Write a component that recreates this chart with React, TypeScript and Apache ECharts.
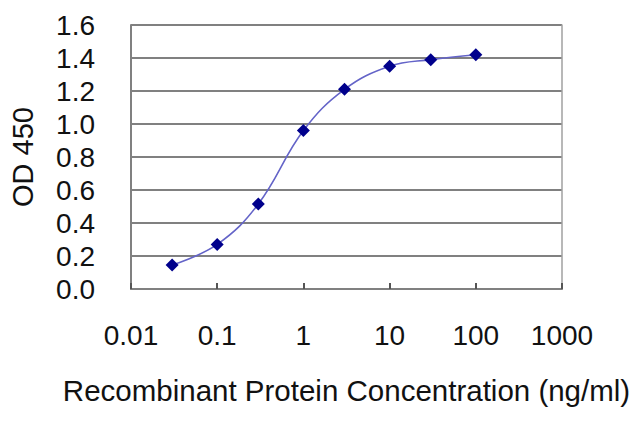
import React, { useEffect, useRef } from "react";
import * as echarts from "echarts";

const concentrations = [0.03, 0.1, 0.3, 1, 3, 10, 30, 100];
const odValues = [0.145, 0.27, 0.515, 0.96, 1.21, 1.35, 1.39, 1.42];
const yTicks = { min: 0, max: 1.6, interval: 0.2 };
const xRange = { min: 0.01, max: 1000 };
const xTitle = "Recombinant Protein Concentration (ng/ml)";
const yTitle = "OD 450";

const FONT = "'Liberation Sans', Arial, sans-serif";

export default function App() {
  const ref = useRef<HTMLDivElement>(null);
  useEffect(() => {
    if (!ref.current) return;
    const chart = echarts.init(ref.current, undefined, { renderer: "svg" });
    const data = concentrations.map((c, i) => [c, odValues[i]]);
    chart.setOption({
      animation: false,
      backgroundColor: "#ffffff",
      grid: { left: 129, right: 78, top: 25, bottom: 138 },
      xAxis: {
        type: "log",
        logBase: 10,
        min: xRange.min,
        max: xRange.max,
        name: xTitle,
        nameLocation: "middle",
        nameGap: 86,
        nameTextStyle: { fontSize: 29.5, color: "#111", fontFamily: FONT },
        axisLine: { show: true, lineStyle: { color: "#808080", width: 2 } },
        axisTick: { show: true, inside: true, length: 6, lineStyle: { color: "#555", width: 2 } },
        axisLabel: {
          fontSize: 28,
          color: "#111",
          fontFamily: FONT,
          margin: 32,
          formatter: (v: number) => String(+Number(v).toPrecision(6)),
        },
        splitLine: { show: false },
        minorTick: { show: false },
      },
      yAxis: [
        {
          type: "value",
          min: yTicks.min,
          max: yTicks.max,
          interval: yTicks.interval,
          name: yTitle,
          nameLocation: "middle",
          nameRotate: 90,
          nameGap: 94,
          nameTextStyle: { fontSize: 29, color: "#111", fontFamily: FONT },
          axisLine: { show: true, lineStyle: { color: "#808080", width: 2 } },
          axisTick: { show: false },
          axisLabel: {
            fontSize: 28,
            color: "#111",
            fontFamily: FONT,
            margin: 36,
            formatter: (v: number) => v.toFixed(1),
          },
          splitLine: { show: true, lineStyle: { color: "#808080", width: 2 } },
        },
        {
          type: "value",
          min: yTicks.min,
          max: yTicks.max,
          interval: yTicks.interval,
          position: "right",
          axisLine: { show: true, lineStyle: { color: "#a0a0a0", width: 1.5 } },
          axisTick: { show: false },
          axisLabel: { show: false },
          splitLine: { show: false },
        },
      ],
      series: [
        {
          type: "line",
          data,
          smooth: 0.4,
          symbol: "diamond",
          symbolSize: 13,
          itemStyle: { color: "#00008c" },
          lineStyle: { color: "#6464c8", width: 1.6 },
          z: 3,
        },
      ],
    });
    return () => chart.dispose();
  }, []);
  return (
    <div
      ref={ref}
      style={{ position: "fixed", left: 0, top: 0, width: 640, height: 427, background: "#fff" }}
    />
  );
}
